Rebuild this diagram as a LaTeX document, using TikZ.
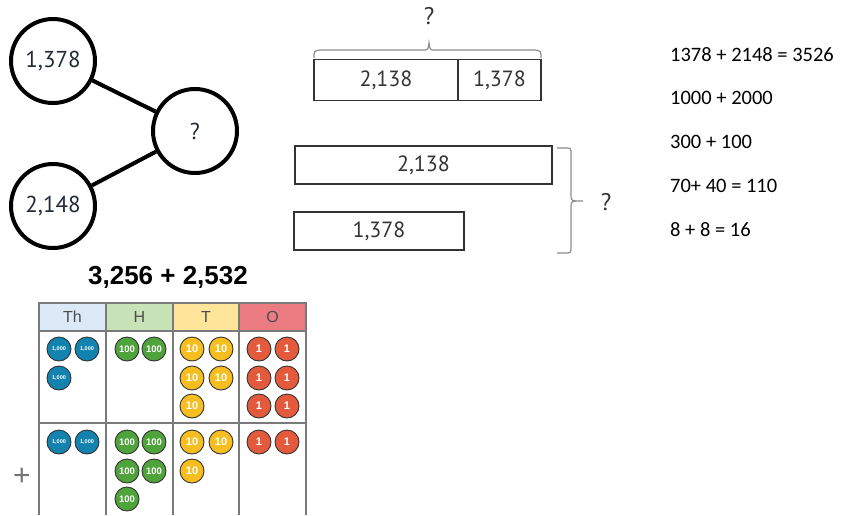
\documentclass[tikz,border=0pt]{standalone}
\usepackage{fontspec}
\newfontfamily\numfont{PT Sans}
\newfontfamily\calfont{Carlito}
\newfontfamily\arfont{Liberation Sans}
\definecolor{inkdark}{HTML}{222A35}
\definecolor{tapeink}{HTML}{333333}
\definecolor{bracegray}{HTML}{8C8C8C}
\definecolor{gridgray}{HTML}{7A7A7A}
\definecolor{thfill}{HTML}{DCE9F7}
\definecolor{hfill}{HTML}{C8E3B8}
\definecolor{tfill}{HTML}{FFE59A}
\definecolor{ofill}{HTML}{EC7B82}
\definecolor{thdisc}{HTML}{1282AE}
\definecolor{hdisc}{HTML}{4FA33B}
\definecolor{tdisc}{HTML}{F6BE1E}
\definecolor{odisc}{HTML}{E35A3C}
\tikzset{
  bond/.style={circle, draw=black, line width=4pt, minimum size=84pt, inner sep=0pt,
    text=inkdark, font=\numfont\fontsize{23}{23}\selectfont},
  bondline/.style={line width=4pt, draw=black},
  tape/.style={draw=tapeink, line width=1.4pt, inner sep=0pt, text=tapeink,
    minimum height=41pt, font=\numfont\fontsize{22}{22}\selectfont},
  tapelow/.style={tape, minimum height=38pt},
  bracket/.style={draw=bracegray, line width=1.2pt},
  qmark/.style={text=tapeink, font=\numfont\fontsize{24}{24}\selectfont},
  eqn/.style={anchor=west, inner sep=0pt, font=\calfont\fontsize{20.5}{20.5}\selectfont},
  hdr/.style={draw=gridgray, line width=1.5pt, minimum height=28pt, inner sep=0pt,
    text=black!70, font=\arfont\fontsize{16}{16}\selectfont},
  grid/.style={draw=gridgray, line width=1.5pt},
  disc/.style={circle, draw=black!80, line width=0.9pt, minimum size=24pt, inner sep=0pt,
    text=white, font=\arfont\bfseries\fontsize{11}{11}\selectfont},
  thousand/.style={disc, fill=thdisc, font=\arfont\bfseries\fontsize{5.5}{5.5}\selectfont},
  hundred/.style={disc, fill=hdisc, font=\arfont\bfseries\fontsize{9.5}{9.5}\selectfont},
  ten/.style={disc, fill=tdisc},
  one/.style={disc, fill=odisc},
}
\begin{document}
\begin{tikzpicture}[x=1pt, y=-1pt]
\useasboundingbox (0,0) rectangle (853,515);

% number bond
\node[bond] (partA) at (53,61) {1,378};
\node[bond] (whole) at (195,131) {?};
\node[bond] (partB) at (53,206) {2,148};
\draw[bondline] (partA) -- (whole);
\draw[bondline] (partB) -- (whole);

% part-whole tape with brace above
\node[tape, minimum width=144pt] (tapeA) at (386,80) {2,138};
\node[tape, minimum width=83pt] (tapeB) at (499.5,80) {1,378};
\draw[bracket] (314,58) .. controls (314,51) .. (320,50) -- (423,50)
  .. controls (428,50) .. (429,43) .. controls (430,50) .. (435,50) -- (535,50)
  .. controls (541,51) .. (541,58);
\node[qmark] (topq) at (429,16) {?};

% comparison tapes with brace at the side
\node[tapelow, minimum width=257pt] (longtape) at (423.5,165) {2,138};
\node[tapelow, minimum width=170pt] (shorttape) at (379,231) {1,378};
\draw[bracket] (557,148) -- (565,148) .. controls (571,148) .. (571,154) -- (571,195)
  .. controls (571,201) .. (583,201) .. controls (571,201) .. (571,207) -- (571,247)
  .. controls (571,253) .. (565,253) -- (557,253);
\node[qmark] (sideq) at (606,202) {?};

% partial sums
\node[eqn] (eq1) at (670,55) {1378 + 2148 = 3526};
\node[eqn] (eq2) at (670,98) {1000 + 2000};
\node[eqn] (eq3) at (670,142) {300 + 100};
\node[eqn] (eq4) at (670,186) {70+ 40 = 110};
\node[eqn] (eq5) at (670,230) {8 + 8 = 16};

% place value chart
\node[font=\arfont\bfseries\fontsize{26}{26}\selectfont] (title) at (168,277) {3,256 + 2,532};
\node[hdr, fill=thfill, minimum width=67pt] (colTh) at (72.5,317) {Th};
\node[hdr, fill=hfill, minimum width=67pt] (colH) at (139.5,317) {H};
\node[hdr, fill=tfill, minimum width=66pt] (colT) at (206,317) {T};
\node[hdr, fill=ofill, minimum width=67pt] (colO) at (272.5,317) {O};
\draw[grid] (39,331) -- (39,515);
\draw[grid] (106,331) -- (106,515);
\draw[grid] (173,331) -- (173,515);
\draw[grid] (239,331) -- (239,515);
\draw[grid] (306,331) -- (306,515);
\draw[grid] (39,423) -- (306,423);
\node[text=black!55, font=\arfont\fontsize{30}{30}\selectfont] (plus) at (22,477) {+};

% first addend: 3,256
\node[thousand] (a1) at (59,349) {1,000};
\node[thousand] (a2) at (87,349) {1,000};
\node[thousand] (a3) at (59,378) {1,000};
\node[hundred] (a4) at (127,349) {100};
\node[hundred] (a5) at (154,349) {100};
\node[ten] (a6) at (192,349) {10};
\node[ten] (a7) at (221,349) {10};
\node[ten] (a8) at (192,378) {10};
\node[ten] (a9) at (221,378) {10};
\node[ten] (a10) at (192,406) {10};
\node[one] (a11) at (259,349) {1};
\node[one] (a12) at (287,349) {1};
\node[one] (a13) at (259,378) {1};
\node[one] (a14) at (287,378) {1};
\node[one] (a15) at (259,406) {1};
\node[one] (a16) at (287,406) {1};

% second addend: 2,532
\node[thousand] (b1) at (59,442) {1,000};
\node[thousand] (b2) at (87,442) {1,000};
\node[hundred] (b3) at (127,442) {100};
\node[hundred] (b4) at (154,442) {100};
\node[hundred] (b5) at (127,471) {100};
\node[hundred] (b6) at (154,471) {100};
\node[hundred] (b7) at (127,499) {100};
\node[ten] (b8) at (192,442) {10};
\node[ten] (b9) at (221,442) {10};
\node[ten] (b10) at (192,471) {10};
\node[one] (b11) at (259,442) {1};
\node[one] (b12) at (287,442) {1};
\end{tikzpicture}
\end{document}
